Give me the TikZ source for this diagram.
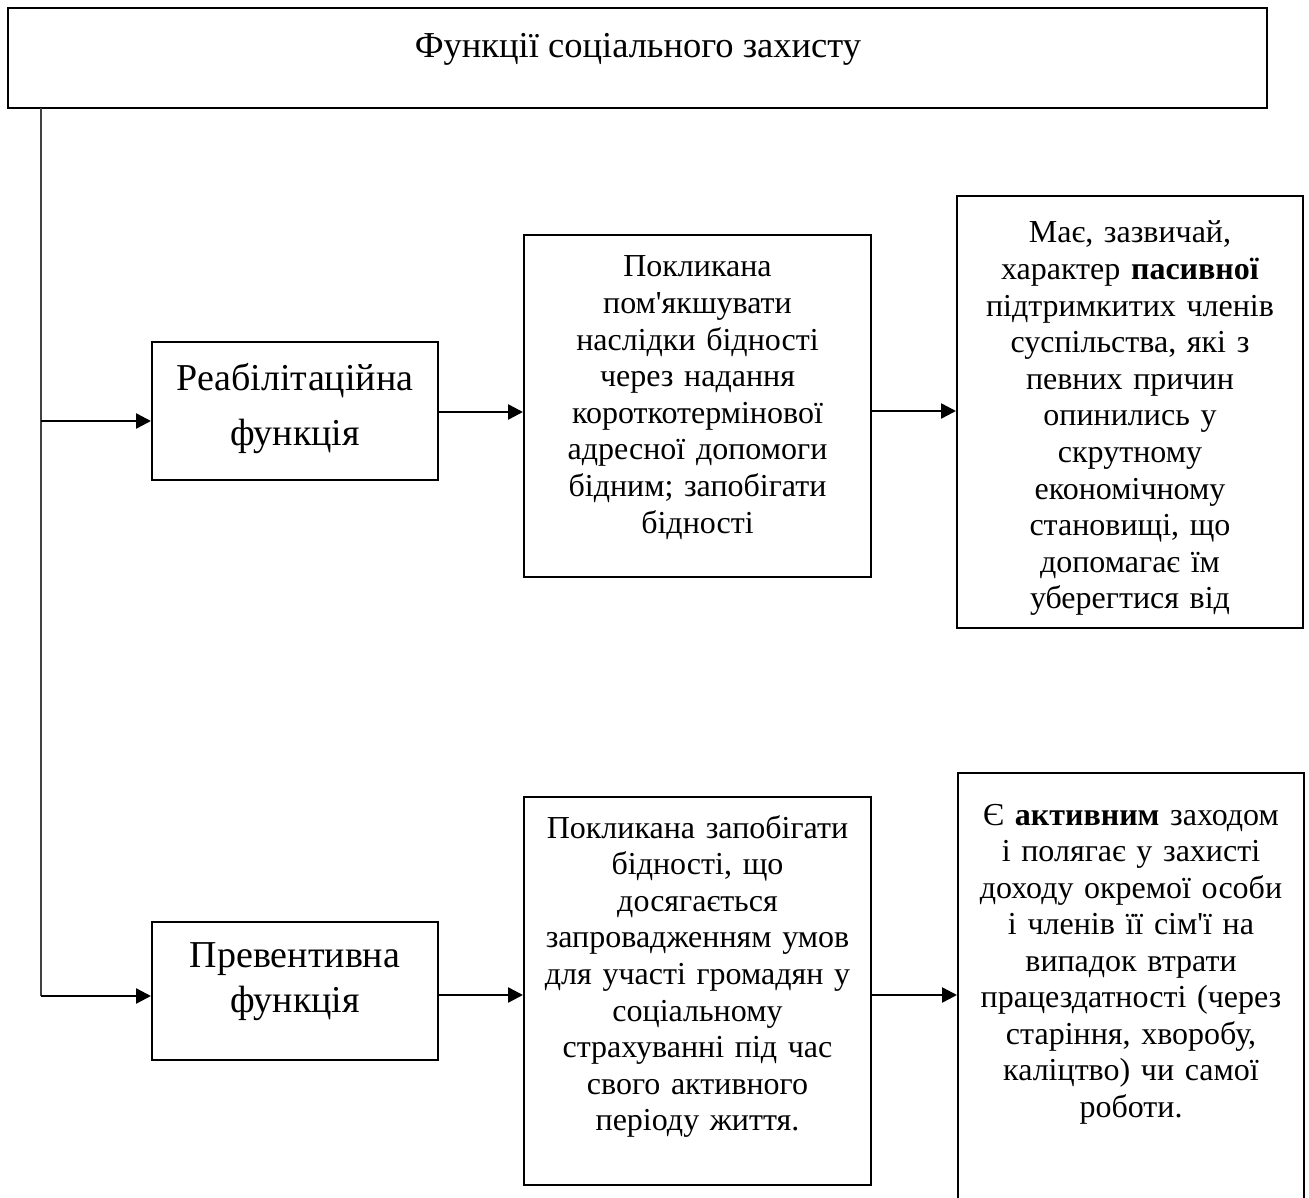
\documentclass[tikz,border=0pt]{standalone}
\usepackage{fontspec}
\setmainfont{Liberation Serif}
\newfontfamily\uaf{Liberation Serif}
\usetikzlibrary{arrows.meta}
\begin{document}
\begin{tikzpicture}[x=1pt,y=-1pt,
  box/.style={draw=black, line width=2pt, rectangle, inner sep=0pt},
  bodytext/.style={font=\uaf\fontsize{32}{36.6}\selectfont, align=center, text width=340pt, inner sep=0pt, anchor=base},
  bigtext/.style={font=\uaf\fontsize{38}{#1}\selectfont, align=center, text width=280pt, inner sep=0pt, anchor=base},
  arr/.style={line width=2.5pt, -{Triangle[length=15pt,width=15pt]}},
  vline/.style={line width=1.6pt, draw=black!75}]
\clip (0,0) rectangle (1309,1198);
% title
\node[box, minimum width=1259pt, minimum height=100pt] (title) at (637.5,58) {};
\node[font=\uaf\fontsize{36.5}{42}\selectfont, anchor=base, inner sep=0pt] (ttext) at (638,58) {Функції соціального захисту};
% left column
\node[box, minimum width=286pt, minimum height=138pt] (r1) at (295,410.5) {};
\node[bigtext=55] (r1t) at (295,390) {Реабілітаційна\\функція};
\node[box, minimum width=286pt, minimum height=138pt] (r2) at (295,991) {};
\node[bigtext=45] (r2t) at (295,967) {Превентивна\\функція};
% middle column
\node[box, minimum width=347pt, minimum height=342pt] (m1) at (697.5,406) {};
\node[bodytext] (m1t) at (697.5,277) {Покликана\\пом'якшувати\\наслідки бідності\\через надання\\короткотермінової\\адресної допомоги\\бідним; запобігати\\бідності};
\node[box, minimum width=347pt, minimum height=388pt] (m2) at (697.5,991) {};
\node[bodytext] (m2t) at (697.5,838) {Покликана запобігати\\бідності, що\\досягається\\запровадженням умов\\для участі громадян у\\соціальному\\страхуванні під час\\свого активного\\періоду життя.};
% right column
\node[box, minimum width=346pt, minimum height=431pt] (t1) at (1130,412) {};
\node[bodytext] (t1t) at (1130,243) {Має, зазвичай,\\характер \textbf{пасивної}\\підтримкитих членів\\суспільства, які з\\певних причин\\опинились у\\скрутному\\економічному\\становищі, що\\допомагає їм\\уберегтися від};
\node[box, minimum width=346pt, minimum height=428pt] (t2) at (1131,987) {};
\node[bodytext, font=\uaf\fontsize{32}{36.5}\selectfont] (t2t) at (1131,825) {Є \textbf{активним} заходом\\і полягає у захисті\\доходу окремої особи\\і членів її сім'ї на\\випадок втрати\\працездатності (через\\старіння, хворобу,\\каліцтво) чи самої\\роботи.};
% connectors
\coordinate (v0) at (41,108);
\coordinate (v1) at (41,421);
\coordinate (v2) at (41,996);
\coordinate (ya) at (0,412);
\coordinate (yb) at (0,411);
\coordinate (yc) at (0,995);
\draw[vline] (v0) -- (v2);
\draw[arr] (v1) -- (v1 -| r1.west);
\draw[arr] (v2) -- (v2 -| r2.west);
\draw[arr] (ya -| r1.east) -- (ya -| m1.west);
\draw[arr] (yb -| m1.east) -- (yb -| t1.west);
\draw[arr] (yc -| r2.east) -- (yc -| m2.west);
\draw[arr] (yc -| m2.east) -- (yc -| t2.west);
\end{tikzpicture}
\end{document}
